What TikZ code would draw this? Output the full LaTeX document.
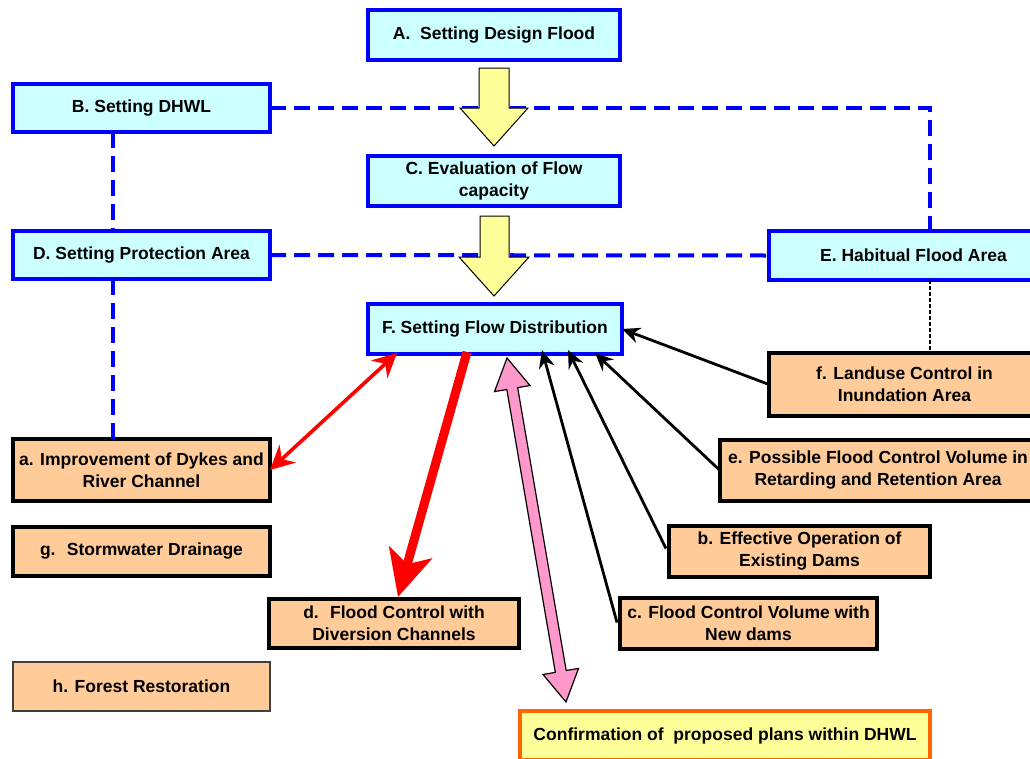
\documentclass[tikz,border=0pt]{standalone}
\usepackage{fontspec}
\setmainfont{Liberation Sans}
\usetikzlibrary{calc,arrows.meta}
\definecolor{cyanfill}{HTML}{CCFFFF}
\definecolor{orfill}{HTML}{FFCC99}
\definecolor{bluel}{HTML}{0000FF}
\definecolor{yelfill}{HTML}{FFFF99}
\definecolor{orline}{HTML}{FF6600}
\definecolor{pinkfill}{HTML}{FF99CC}
\definecolor{redl}{HTML}{FF0000}
\newcommand\placebox[7]{%
  \node[#1, minimum width={#4-#2}, minimum height={#5-#3}] (#6) at ({(#2+#4)/2},{(#3+#5)/2}) {#7};}
\tikzset{
  basebox/.style={align=center, inner sep=0pt, outer sep=0pt},
  bluebox/.style={basebox, draw=bluel, line width=3.5pt, fill=cyanfill},
  orbox/.style={basebox, draw=black, line width=3.5pt, fill=orfill},
  hbox/.style={basebox, draw=black!75, line width=2pt, fill=orfill},
  confbox/.style={basebox, draw=orline, line width=3.5pt, fill=yelfill},
  bluedash/.style={draw=bluel, line width=4pt, dash pattern=on 16pt off 8pt},
  blkdot/.style={draw=black, line width=1.5pt, dash pattern=on 4pt off 2pt},
  yelarrow/.style={fill=yelfill, draw=black, line width=1pt, line join=miter},
  pinkarrow/.style={fill=pinkfill, draw=black, line width=1.2pt, line join=miter},
  blkarrow/.style={draw=black, line width=2.8pt, -{Stealth[length=18pt,width=16pt,inset=6pt]}},
  redthin/.style={draw=redl, line width=3.6pt, {Stealth[length=24pt,width=24pt,inset=8pt]}-{Stealth[length=24pt,width=24pt,inset=8pt]}},
  redthick/.style={draw=redl, line width=9pt, -{Stealth[length=46pt,width=44pt,inset=12pt]}}
}
\begin{document}
\begin{tikzpicture}[x=1pt,y=-1pt,font=\bfseries\fontsize{17.5}{22}\selectfont]
\clip (0,0) rectangle (1030,758);
\fill[white] (0,0) rectangle (1030,758);
% boxes
\placebox{bluebox}{368}{10}{620}{60}{A}{A.~ Setting Design Flood}
\placebox{bluebox}{13}{84}{270}{132}{B}{B. Setting DHWL}
\placebox{bluebox}{368}{156}{620}{206}{C}{C. Evaluation of Flow\\capacity}
\placebox{bluebox}{13}{231}{270}{279}{D}{D. Setting Protection Area}
\placebox{bluebox}{769}{231}{1058}{280}{E}{E. Habitual Flood Area}
\placebox{bluebox}{368}{304}{622}{354}{F}{F. Setting Flow Distribution}
\placebox{orbox}{769}{353}{1040}{416}{fbox}{f. Landuse Control in\\Inundation Area}
\placebox{orbox}{720}{440}{1036}{501}{ebox}{e. Possible Flood Control Volume in\\Retarding and Retention Area}
\placebox{orbox}{13}{439}{270}{501}{abox}{a. Improvement of Dykes and\\River Channel}
\placebox{orbox}{13}{527}{270}{576}{gbox}{g.~ Stormwater Drainage}
\placebox{orbox}{669}{526}{930}{577}{bbox}{b. Effective Operation of\\Existing Dams}
\placebox{orbox}{269}{599}{519}{648}{dbox}{d.~ Flood Control with\\Diversion Channels}
\placebox{orbox}{620}{598}{877}{649}{cbox}{c. Flood Control Volume with\\New dams}
\placebox{hbox}{13}{662}{270}{711}{hbox}{h. Forest Restoration}
\placebox{confbox}{520}{711}{930}{760}{conf}{Confirmation of~ proposed plans within DHWL}
% dashed links
\draw[bluedash] (B.east) -| ($(E.north west)+(161,0)$);
\draw[bluedash] ($(B.south west)+(100,0)$) -- ($(D.north west)+(100,0)$);
\draw[bluedash] (D.east) -- (E.west);
\draw[bluedash] ($(D.south west)+(100,0)$) -- ($(abox.north west)+(100,0)$);
\draw[blkdot] ($(E.south west)+(161,0)$) -- ($(fbox.north west)+(161,0)$);
% yellow block arrows
\draw[yelarrow] ($(A.south)+(-15,8)$) -- ($(A.south)+(15,8)$) -- ($(A.south)+(15,48)$)
  -- ($(A.south)+(34,48)$) -- ($(A.south)+(0,86)$) -- ($(A.south)+(-34,48)$)
  -- ($(A.south)+(-15,48)$) -- cycle;
\draw[yelarrow] ($(C.south)+(-14,10)$) -- ($(C.south)+(15,10)$) -- ($(C.south)+(15,51)$)
  -- ($(C.south)+(35,51)$) -- ($(C.south)+(0,90)$) -- ($(C.south)+(-35,51)$)
  -- ($(C.south)+(-14,51)$) -- cycle;
% red arrows
\draw[redthin] ($(F.south west)+(29,-1)$) -- (abox.east);
\draw[redthick] ($(F.south west)+(99,-2)$) -- ($(dbox.north west)+(129,-2)$);
% pink double block arrow
\coordinate (pkT) at ($(F.south west)+(139,4)$);
\coordinate (pkB) at ($(conf.north west)+(46,-9)$);
\coordinate (hdT) at ($(pkT)!31pt!(pkB)$);
\coordinate (hdB) at ($(pkB)!31pt!(pkT)$);
\draw[pinkarrow] (pkT) -- ($(hdT)!18pt!90:(pkB)$) -- ($(hdT)!5.5pt!90:(pkB)$)
  -- ($(hdB)!5.5pt!-90:(pkT)$) -- ($(hdB)!18pt!-90:(pkT)$) -- (pkB)
  -- ($(hdB)!18pt!90:(pkT)$) -- ($(hdB)!5.5pt!90:(pkT)$)
  -- ($(hdT)!5.5pt!-90:(pkB)$) -- ($(hdT)!18pt!-90:(pkB)$) -- cycle;
% black arrows into F
\draw[blkarrow] (fbox.west) -- (F.east);
\draw[blkarrow] (ebox.west) -- ($(F.south east)+(-27,-1)$);
\draw[blkarrow] ($(bbox.west)+(-3,-3)$) -- ($(F.south west)+(200,-4)$);
\draw[blkarrow] ($(cbox.west)+(-3,-1)$) -- ($(F.south west)+(174,-4)$);
\end{tikzpicture}
\end{document}
